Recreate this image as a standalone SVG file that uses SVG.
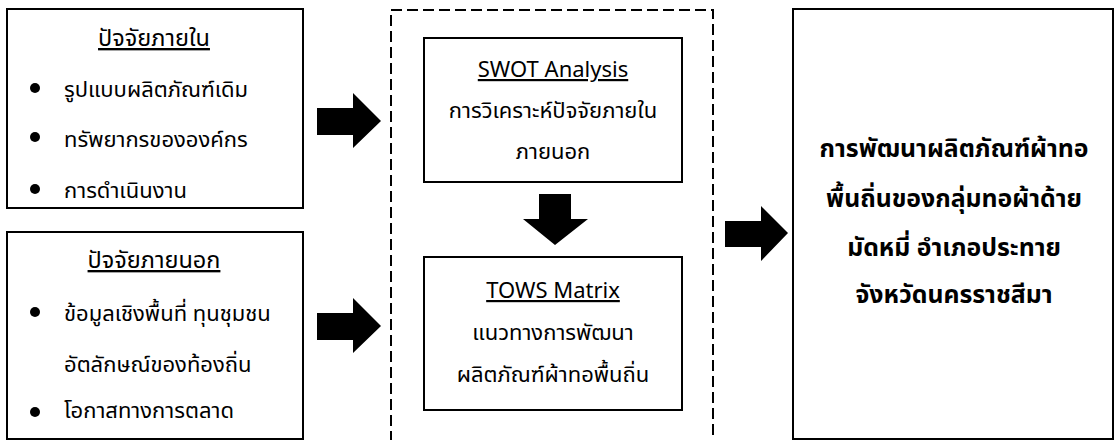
<svg xmlns="http://www.w3.org/2000/svg" width="1116" height="440" viewBox="0 0 1116 440">
  <style>
    .box { fill: #fff; stroke: #000; stroke-width: 2; }
    .dash { fill: none; stroke: #000; stroke-width: 2; stroke-dasharray: 11 5; }
    .t { font-family: "Leelawadee UI", "Tahoma", "Noto Sans Thai", "DejaVu Sans", sans-serif; font-size: 22px; fill: #000; }
    .h { font-size: 23.5px; }
    .c { text-anchor: middle; }
    .u { text-decoration: underline; }
    .b { font-weight: bold; font-size: 24.8px; }
    .arrow { fill: #000; }
  </style>

  <!-- internal factors -->
  <g id="internal">
    <rect class="box" x="7" y="9" width="296" height="199"/>
    <text class="t h c u" x="154" y="46">ปัจจัยภายใน</text>
    <circle cx="35" cy="88" r="5"/>
    <text class="t" x="64" y="97">รูปแบบผลิตภัณฑ์เดิม</text>
    <circle cx="35" cy="137" r="5"/>
    <text class="t" x="64" y="147">ทรัพยากรขององค์กร</text>
    <circle cx="35" cy="189" r="5"/>
    <text class="t" x="64" y="198">การดำเนินงาน</text>
  </g>

  <!-- external factors -->
  <g id="external">
    <rect class="box" x="7" y="232" width="296" height="207"/>
    <text class="t h c u" x="154" y="268">ปัจจัยภายนอก</text>
    <circle cx="35" cy="312" r="5"/>
    <text class="t" x="64" y="321">ข้อมูลเชิงพื้นที่ ทุนชุมชน</text>
    <text class="t" x="64" y="372">อัตลักษณ์ของท้องถิ่น</text>
    <circle cx="35" cy="412" r="5"/>
    <text class="t" x="64" y="418">โอกาสทางการตลาด</text>
  </g>

  <!-- analysis frame -->
  <g id="analysis-frame">
    <path class="dash" d="M391 442 V10 H713 V442"/>
  </g>

  <g id="swot">
    <rect class="box" x="424" y="38" width="258" height="144"/>
    <text class="t c u" x="553" y="77">SWOT Analysis</text>
    <text class="t c" x="553" y="118">การวิเคราะห์ปัจจัยภายใน</text>
    <text class="t c" x="553" y="159">ภายนอก</text>
  </g>

  <g id="tows">
    <rect class="box" x="424" y="257" width="258" height="153"/>
    <text class="t c u" x="553" y="298">TOWS Matrix</text>
    <text class="t c" x="553" y="340">แนวทางการพัฒนา</text>
    <text class="t c" x="553" y="382">ผลิตภัณฑ์ผ้าทอพื้นถิ่น</text>
  </g>

  <g id="result">
    <rect class="box" x="793" y="9" width="320" height="430"/>
    <text class="t c b" x="954" y="157">การพัฒนาผลิตภัณฑ์ผ้าทอ</text>
    <text class="t c b" x="954" y="207">พื้นถิ่นของกลุ่มทอผ้าด้าย</text>
    <text class="t c b" x="954" y="256">มัดหมี่ อำเภอประทาย</text>
    <text class="t c b" x="954" y="303">จังหวัดนครราชสีมา</text>
  </g>

  <!-- block arrows -->
  <g id="connectors">
    <polygon class="arrow" points="317,108 353,108 353,93 381,121 353,148 353,135 317,135"/>
    <polygon class="arrow" points="317,313 353,313 353,298 381,326 353,353 353,340 317,340"/>
    <polygon class="arrow" points="539,194 571,194 571,219 588,219 555,245 523,219 539,219"/>
    <polygon class="arrow" points="725,221 761,221 761,206 788,233 761,261 761,247 725,247"/>
  </g>
</svg>
